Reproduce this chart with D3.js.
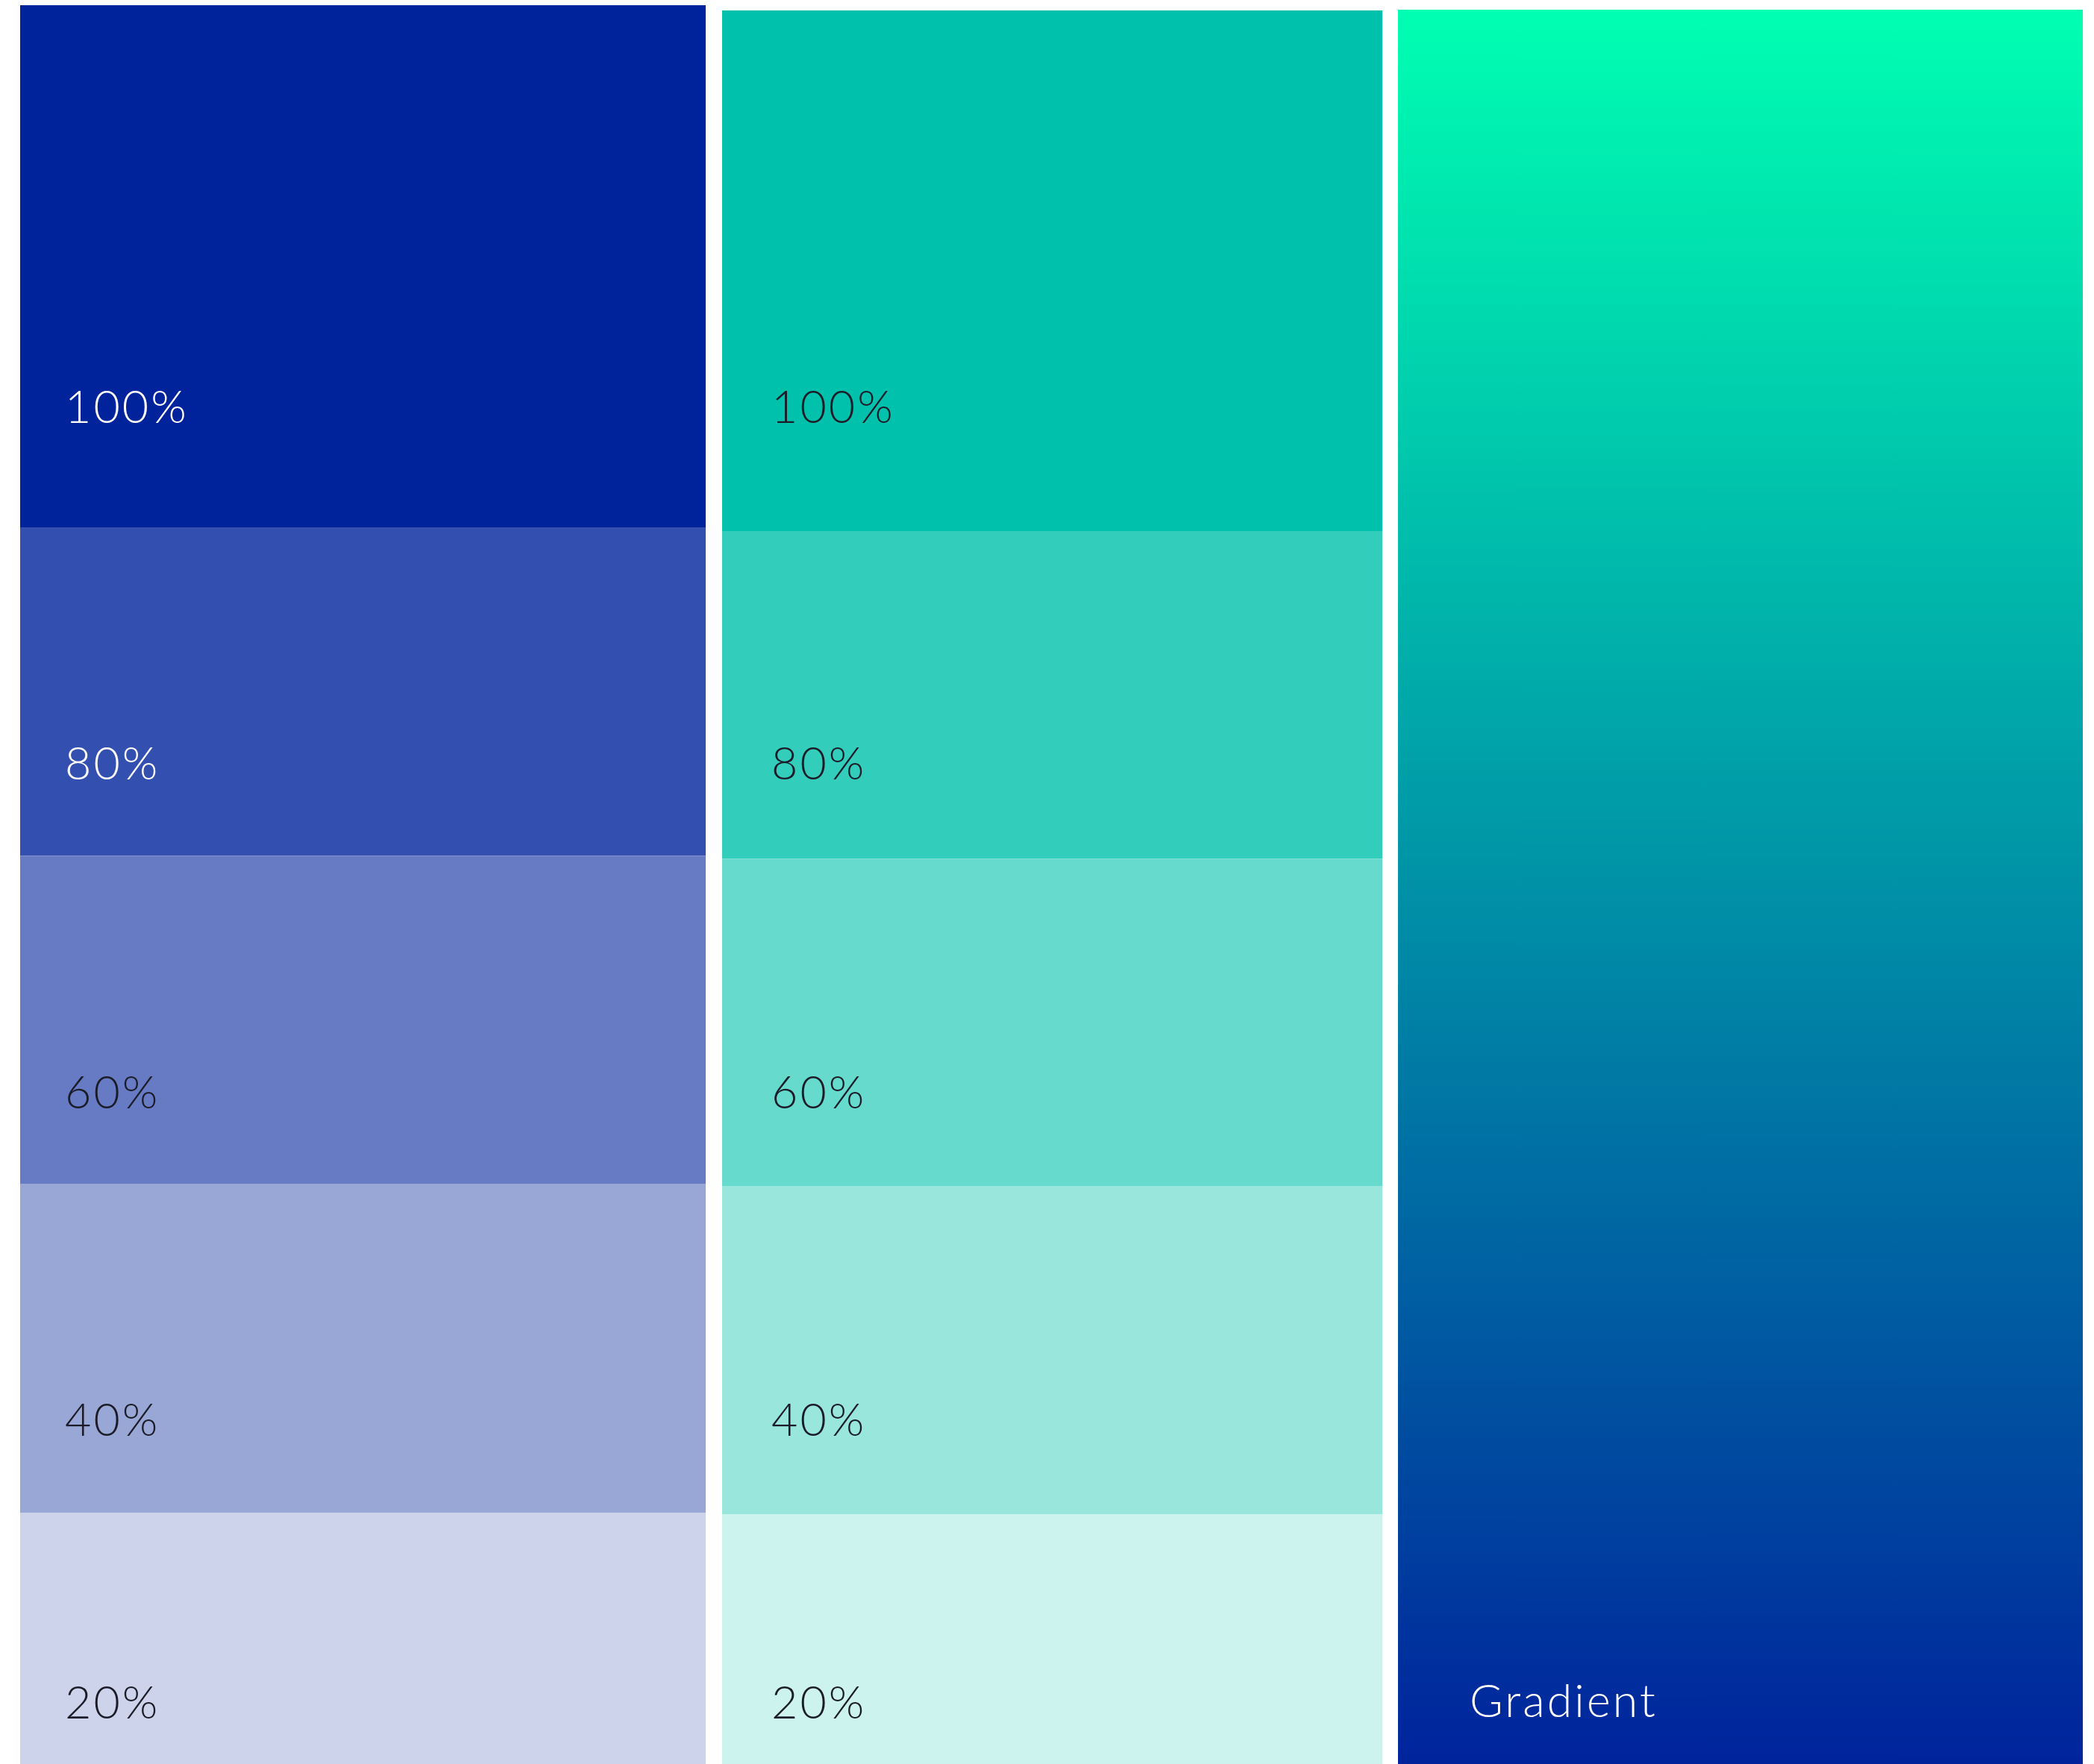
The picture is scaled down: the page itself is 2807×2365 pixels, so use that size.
<!DOCTYPE html>
<html>
<head>
<meta charset="utf-8">
<script src="https://cdn.jsdelivr.net/npm/d3@7"></script>
<style>
  html, body { margin: 0; padding: 0; background: #fff; }
  svg { display: block; }
  .label { font-family: Lato, "Open Sans", sans-serif; font-weight: 300; font-size: 61px; letter-spacing: 3px; }
</style>
</head>
<body>
<svg id="chart"></svg>
<script>
// tint levels (percent of the base colour)
const shades = [100, 80, 60, 40, 20];
const shadeLabels = ['100%', '80%', '60%', '40%', '20%'];

// base colours of the two swatch columns
const palettes = ['Blue', 'Teal'];
const baseColors = ['#00239c', '#00c1ab'];
// label text colour per shade, per column (true = white)
const whiteText = [
  [true, true, false, false, false],
  [false, false, false, false, false]
];

// gradient column
const gradientStops = ['#00ffb2', '#00239c'];
const gradientLabel = 'Gradient';

const width = 2807, height = 2365;

// layout (positions only)
const columns = [
  {left: 27, right: 946, top: 7, y80: 707, y20: 2028, labelX: 60},
  {left: 968, right: 1853, top: 14, y80: 712, y20: 2030, labelX: 66}
];
const gradientBox = {left: 1874, right: 2792, top: 13, labelX: 96};
const labelBaseline = d3.scaleOrdinal().domain(shades).range([567, 1045, 1486, 1925, 2304]);

const svg = d3.select('#chart')
  .attr('width', width)
  .attr('height', height);

const defs = svg.append('defs');

columns.forEach((col, ci) => {
  // boundaries between tints follow a linear scale over the shade value
  const y = d3.scaleLinear().domain([80, 20]).range([col.y80, col.y20]);
  const tint = d3.interpolateRgb('#ffffff', baseColors[ci]);

  const bands = shades.map((s, i) => ({
    shade: s,
    label: shadeLabels[i],
    white: whiteText[ci][i],
    y0: i === 0 ? col.top : y(s),
    y1: i === shades.length - 1 ? height : y(shades[i + 1])
  }));

  const g = svg.append('g').attr('class', 'column ' + palettes[ci]);

  g.selectAll('rect')
    .data(bands)
    .join('rect')
    .attr('x', col.left)
    .attr('width', col.right - col.left)
    .attr('y', d => d.y0)
    .attr('height', d => d.y1 - d.y0)
    .attr('fill', d => tint(d.shade / 100));

  g.selectAll('text')
    .data(bands)
    .join('text')
    .attr('class', 'label')
    .attr('x', col.left + col.labelX)
    .attr('y', d => labelBaseline(d.shade))
    .attr('fill', d => d.white ? '#ffffff' : '#1c1c28')
    .text(d => d.label);
});

// gradient swatch
const grad = defs.append('linearGradient')
  .attr('id', 'grad')
  .attr('x1', 0).attr('x2', 0)
  .attr('y1', 0).attr('y2', 1);

grad.selectAll('stop')
  .data(gradientStops)
  .join('stop')
  .attr('offset', (d, i) => i / (gradientStops.length - 1))
  .attr('stop-color', d => d);

svg.append('rect')
  .attr('x', gradientBox.left)
  .attr('y', gradientBox.top)
  .attr('width', gradientBox.right - gradientBox.left)
  .attr('height', height - gradientBox.top)
  .attr('fill', 'url(#grad)');

svg.append('text')
  .attr('class', 'label')
  .attr('x', gradientBox.left + gradientBox.labelX)
  .attr('y', labelBaseline(20) - 2)
  .attr('fill', '#ffffff')
  .text(gradientLabel);
</script>
</body>
</html>
